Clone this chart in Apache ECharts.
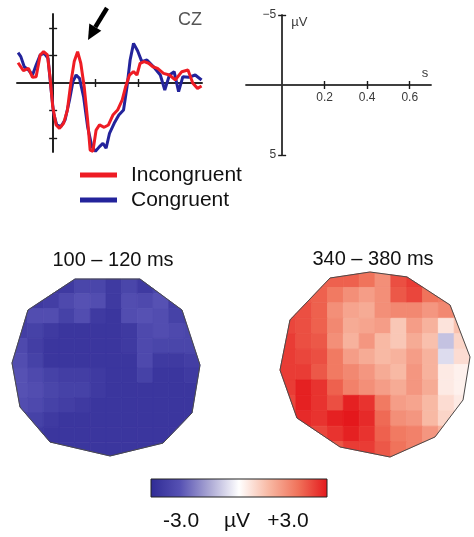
<!DOCTYPE html>
<html><head><meta charset="utf-8">
<script src="https://cdn.jsdelivr.net/npm/echarts@6/dist/echarts.min.js"></script>
<style>html,body{margin:0;padding:0;background:#fff}#c{width:474px;height:537px}</style>
</head><body><div id="c"></div>
<script>
// ---------- data ----------
const seriesNames = ['Incongruent', 'Congruent'];
const redTime = [-0.165,-0.140,-0.116,-0.097,-0.080,-0.061,-0.045,-0.027,-0.014,-0.002,0.014,0.030,0.049,0.067,0.083,0.099,0.115,0.130,0.146,0.162,0.174,0.187,0.202,0.218,0.240,0.260,0.281,0.303,0.325,0.340,0.359,0.378,0.394,0.409,0.428,0.449,0.469,0.491,0.519,0.547,0.574,0.605,0.634,0.657,0.679,0.698];
const redValues = [-1.47,-0.89,-1.06,-0.41,-0.46,-2.03,-2.27,-2.03,-0.34,1.71,3.04,3.29,2.92,1.96,0.02,-1.55,-2.27,-1.43,0.27,2.68,4.86,4.95,3.41,3.04,3.21,3.04,2.32,1.96,1.23,0.31,-0.58,-0.82,-0.58,-1.43,-1.55,-1.43,-1.18,-1.06,-0.70,-0.58,-0.22,-0.82,-0.94,0.02,0.39,0.22];
const blueTime = [-0.165,-0.152,-0.136,-0.116,-0.097,-0.080,-0.061,-0.042,-0.024,-0.011,0.002,0.017,0.036,0.056,0.077,0.093,0.108,0.124,0.143,0.162,0.182,0.199,0.218,0.234,0.249,0.265,0.287,0.309,0.331,0.347,0.362,0.378,0.397,0.417,0.441,0.472,0.504,0.525,0.547,0.569,0.590,0.610,0.637,0.668,0.698];
const blueValues = [-2.20,-1.91,-1.18,-0.94,-0.58,-1.30,-2.03,-2.15,-1.79,0.27,2.20,3.04,3.16,2.68,1.23,-0.10,-0.58,-0.34,0.99,3.16,4.61,4.95,4.61,4.37,4.73,3.65,2.92,2.32,1.96,0.31,-1.67,-2.87,-2.34,-1.55,-1.67,-1.18,-0.58,0.51,-0.58,-0.82,0.63,-0.46,-0.41,-0.58,-0.22];
const erpXTicks = [0.2, 0.4];
const erpYTicks = [-4, -2, 2, 4];
const scaleXTicks = [0.2, 0.4, 0.6];
const scaleXLabels = ['0.2', '0.4', '0.6'];
const scaleYTicks = [-5, 5];
const scaleYLabels = ['\u22125', '5'];
const scaleUnitY = '\u00b5V';
const scaleUnitX = 's';
const channelLabel = 'CZ';
const mapTitles = ['100 \u2013 120 ms', '340 \u2013 380 ms'];
const colorbarLabels = ['-3.0', '\u00b5V', '+3.0'];
const colorMin = -3, colorMax = 3;
const colorScale = ['#2f2b95', '#5651b3', '#aba8d4', '#ffffff', '#f8b9a4', '#f0735b', '#e4181c'];
// topography grids (µV), rows top->bottom, cols left->right
const mapEarly = [
 [-2.6,-2.6,-2.6,-2.6,-2.3,-2.3,-2.6,-2.3,-2.6,-2.3,-2.6,-2.6],
 [-2.6,-2.6,-2.5,-2.2,-2.0,-2.1,-2.6,-2.1,-2.2,-2.0,-2.5,-2.6],
 [-2.5,-2.1,-2.1,-2.4,-2.1,-2.6,-2.7,-2.1,-2.0,-2.1,-2.4,-2.5],
 [-2.5,-2.4,-2.6,-2.7,-2.7,-2.7,-2.7,-2.6,-2.2,-2.1,-2.2,-2.3],
 [-2.2,-2.5,-2.7,-2.7,-2.7,-2.7,-2.7,-2.6,-2.2,-2.3,-2.3,-2.3],
 [-2.1,-2.4,-2.7,-2.7,-2.7,-2.7,-2.7,-2.7,-2.2,-2.6,-2.6,-2.5],
 [-2.0,-2.2,-2.4,-2.5,-2.5,-2.6,-2.7,-2.7,-2.4,-2.7,-2.7,-2.6],
 [-2.0,-2.1,-2.3,-2.4,-2.4,-2.6,-2.7,-2.7,-2.7,-2.7,-2.7,-2.7],
 [-2.1,-2.2,-2.4,-2.5,-2.6,-2.7,-2.7,-2.7,-2.7,-2.7,-2.7,-2.7],
 [-2.3,-2.4,-2.6,-2.7,-2.7,-2.7,-2.7,-2.7,-2.7,-2.7,-2.7,-2.7],
 [-2.5,-2.6,-2.7,-2.7,-2.7,-2.7,-2.7,-2.7,-2.7,-2.7,-2.7,-2.7],
 [-2.7,-2.7,-2.7,-2.7,-2.7,-2.7,-2.7,-2.7,-2.7,-2.7,-2.7,-2.7]
];
const mapLate = [
 [2.2,2.2,2.2,2.2,2.2,2.0,1.6,2.4,2.6,2.2,2.2,2.0],
 [2.3,2.3,2.2,1.9,1.6,1.4,1.6,2.3,2.5,2.0,1.9,1.7],
 [2.5,2.4,2.2,1.6,1.3,1.2,1.6,1.7,1.7,1.5,1.7,1.3],
 [2.5,2.4,2.2,1.7,1.2,1.3,1.4,0.8,1.4,1.1,0.4,0.9],
 [2.6,2.4,2.3,1.6,1.1,1.5,1.0,0.8,1.2,0.9,-0.7,0.6],
 [2.6,2.5,2.4,1.9,1.4,1.2,1.0,1.1,1.4,1.1,-0.4,0.5],
 [2.6,2.6,2.3,1.9,1.7,1.5,1.2,1.0,1.5,1.1,0.3,0.2],
 [2.6,2.9,2.7,2.2,1.8,1.6,1.4,1.2,1.5,1.2,0.3,0.2],
 [2.5,2.9,2.7,2.4,2.9,2.7,1.9,1.4,1.3,1.0,0.5,0.3],
 [2.5,2.8,2.7,2.9,3.0,2.8,2.1,1.6,1.5,1.0,0.6,0.5],
 [2.4,2.6,2.5,2.7,2.9,2.7,2.2,1.9,1.8,1.5,1.1,0.9],
 [2.3,2.4,2.3,2.3,2.6,2.6,2.3,2.0,1.8,1.6,1.3,1.1]
];
// head outlines in grid units (0..12)
const outlineEarly = [[4.02,0],[8.17,0],[10.85,2.09],[12,5.8],[11.49,9.03],[9.64,11.06],[6.26,11.93],[2.43,10.99],[0.51,8.63],[0,5.66],[1.02,2.09]];
const outlineLate = [[3.16,0.39],[5.68,0],[8.02,0.32],[10.74,2.14],[12,5.51],[11.56,8.3],[9.79,10.7],[6.95,12],[3.79,11.35],[1.07,9.47],[0,6.36],[0.63,3.11]];

// ---------- helpers ----------
const FONT = "'Liberation Sans', Arial, sans-serif";
const pairs = (t, v) => t.map((x, i) => [x, v[i]]);
const cells = g => { const o = []; g.forEach((row, r) => row.forEach((val, c) => o.push([c, r, val]))); return o; };
function clipPoly(subject, clip) {
  let area = 0;
  for (let i = 0; i < clip.length; i++) { const a = clip[i], b = clip[(i + 1) % clip.length]; area += a[0] * b[1] - b[0] * a[1]; }
  const sgn = area > 0 ? 1 : -1;
  let out = subject;
  for (let i = 0; i < clip.length && out.length; i++) {
    const a = clip[i], b = clip[(i + 1) % clip.length];
    const inside = p => sgn * ((b[0] - a[0]) * (p[1] - a[1]) - (b[1] - a[1]) * (p[0] - a[0])) >= 0;
    const inter = (p, q) => {
      const a1 = b[1] - a[1], b1 = a[0] - b[0], c1 = a1 * a[0] + b1 * a[1];
      const a2 = q[1] - p[1], b2 = p[0] - q[0], c2 = a2 * p[0] + b2 * p[1];
      const d = a1 * b2 - a2 * b1;
      return [(b2 * c1 - b1 * c2) / d, (a1 * c2 - a2 * c1) / d];
    };
    const inp = out; out = [];
    for (let j = 0; j < inp.length; j++) {
      const cur = inp[j], prev = inp[(j + inp.length - 1) % inp.length];
      if (inside(cur)) { if (!inside(prev)) out.push(inter(prev, cur)); out.push(cur); }
      else if (inside(prev)) out.push(inter(prev, cur));
    }
  }
  return out;
}
function cellRenderer(outline) {
  return function (params, api) {
    const c = api.value(0), r = api.value(1);
    const p0 = api.coord([c, r]), p1 = api.coord([c + 1, r + 1]);
    const rect = [[p0[0], p0[1]], [p1[0], p0[1]], [p1[0], p1[1]], [p0[0], p1[1]]];
    const pts = clipPoly(rect, outline.map(v => api.coord(v)));
    if (pts.length < 3) return null;
    const col = api.visual('color');
    return { type: 'polygon', shape: { points: pts }, style: { fill: col, stroke: col, lineWidth: 0.8 } };
  };
}
function outlineRenderer(outline) {
  return function (params, api) {
    return { type: 'polygon', shape: { points: outline.map(v => api.coord(v)) }, style: { fill: 'none', stroke: '#4a4a4a', lineWidth: 1 }, z2: 10 };
  };
}
const axisLineStyle = { color: '#1a1a1a', width: 1.6 };
function valAxis(o) {
  return Object.assign({ type: 'value', splitLine: { show: false }, axisLine: { show: true, onZero: true, lineStyle: axisLineStyle },
    axisTick: { show: true, length: 4, lineStyle: { color: '#1a1a1a', width: 1.4 } }, axisLabel: { show: false } }, o);
}
const tickAt = (vals) => ({ show: true, length: 4, customValues: vals, lineStyle: { color: '#1a1a1a', width: 1.4 } });
const scaleLine = { show: true, onZero: true, lineStyle: { color: '#333', width: 1.5 } };

const chart = echarts.init(document.getElementById('c'), null, { renderer: 'canvas' });
chart.setOption({
  animation: false,
  backgroundColor: '#ffffff',
  grid: [
    { left: 17, top: 14, width: 185, height: 138 },
    { left: 246, top: 15, width: 185, height: 140 },
    { left: 12, top: 279, width: 188, height: 178 },
    { left: 280, top: 272, width: 190, height: 185 }
  ],
  xAxis: [
    valAxis({ gridIndex: 0, min: -0.17, max: 0.7, position: 'bottom', axisTick: tickAt(erpXTicks) }),
    valAxis({ gridIndex: 0, min: -0.17, max: 0.7, position: 'top', axisTick: tickAt(erpXTicks) }),
    valAxis({ gridIndex: 1, min: -0.17, max: 0.7, position: 'bottom', axisTick: tickAt(scaleXTicks), axisLine: scaleLine }),
    valAxis({ gridIndex: 1, min: -0.17, max: 0.7, position: 'top', axisTick: tickAt(scaleXTicks), axisLine: scaleLine,
      name: scaleUnitX, nameLocation: 'end', nameGap: -6,
      nameTextStyle: { color: '#3a3a3a', fontSize: 13, fontFamily: FONT, align: 'center', verticalAlign: 'bottom', padding: [0, 0, 5, 0] } }),
    { type: 'value', gridIndex: 2, min: 0, max: 12, show: false },
    { type: 'value', gridIndex: 3, min: 0, max: 12, show: false }
  ],
  yAxis: [
    valAxis({ gridIndex: 0, min: -5, max: 5, inverse: true, position: 'left', axisTick: tickAt(erpYTicks) }),
    valAxis({ gridIndex: 0, min: -5, max: 5, inverse: true, position: 'right', axisTick: tickAt(erpYTicks) }),
    valAxis({ gridIndex: 1, min: -5, max: 5, inverse: true, position: 'left', axisTick: tickAt(scaleYTicks), axisLine: scaleLine }),
    valAxis({ gridIndex: 1, min: -5, max: 5, inverse: true, position: 'right', axisTick: tickAt(scaleYTicks), axisLine: scaleLine }),
    { type: 'value', gridIndex: 2, min: 0, max: 12, inverse: true, show: false },
    { type: 'value', gridIndex: 3, min: 0, max: 12, inverse: true, show: false }
  ],
  legend: {
    orient: 'vertical', left: 80, top: 164, padding: 0, itemWidth: 37, itemHeight: 5, itemGap: 3, icon: 'rect',
    data: seriesNames,
    textStyle: { fontSize: 21, lineHeight: 22, fontFamily: FONT, color: '#111', padding: [0, 0, 0, 9] }
  },
  visualMap: {
    type: 'continuous', show: false, min: colorMin, max: colorMax, dimension: 2, seriesIndex: [2, 3],
    inRange: { color: colorScale }
  },
  series: [
    { name: seriesNames[1], type: 'line', xAxisIndex: 0, yAxisIndex: 0, data: pairs(blueTime, blueValues),
      symbol: 'none', color: '#23239b', lineStyle: { width: 3, color: '#23239b' }, z: 3 },
    { name: seriesNames[0], type: 'line', xAxisIndex: 0, yAxisIndex: 0, data: pairs(redTime, redValues),
      symbol: 'none', color: '#ee1c24', lineStyle: { width: 3, color: '#ee1c24' }, z: 4 },
    { type: 'custom', xAxisIndex: 4, yAxisIndex: 4, data: cells(mapEarly), renderItem: cellRenderer(outlineEarly), encode: { x: 0, y: 1 } },
    { type: 'custom', xAxisIndex: 5, yAxisIndex: 5, data: cells(mapLate), renderItem: cellRenderer(outlineLate), encode: { x: 0, y: 1 } },
    { type: 'custom', xAxisIndex: 4, yAxisIndex: 4, data: [[0, 0]], renderItem: outlineRenderer(outlineEarly), z: 5 },
    { type: 'custom', xAxisIndex: 5, yAxisIndex: 5, data: [[0, 0]], renderItem: outlineRenderer(outlineLate), z: 5 }
  ]
});

// labels of the scale axes, positioned through the scale grid's coordinate system
const px = (t, v) => chart.convertToPixel({ gridIndex: 1 }, [t, v]);
const labelStyle = (size, align, va) => ({ font: size + 'px ' + FONT, fill: '#3a3a3a', align: align, verticalAlign: va });
const graphics = [];
scaleXTicks.forEach((t, i) => { const p = px(t, 0); graphics.push({ type: 'text', x: p[0], y: p[1] + 7, style: Object.assign({ text: scaleXLabels[i] }, labelStyle(12, 'center', 'top')) }); });
scaleYTicks.forEach((v, i) => { const p = px(0, v); graphics.push({ type: 'text', x: p[0] - 6, y: p[1], style: Object.assign({ text: scaleYLabels[i] }, labelStyle(12, 'right', 'middle')) }); });
{ const p = px(0, scaleYTicks[0]); graphics.push({ type: 'text', x: p[0] + 9, y: p[1] + 7, style: Object.assign({ text: scaleUnitY }, labelStyle(13, 'left', 'middle')) }); }

graphics.push(
  { type: 'text', x: 190, y: 20, style: { text: channelLabel, font: '18px ' + FONT, fill: '#555', align: 'center', verticalAlign: 'middle' } },
  { type: 'line', shape: { x1: 107, y1: 8, x2: 95.3, y2: 27.1 }, style: { stroke: '#000', lineWidth: 4.5 } },
  { type: 'polygon', shape: { points: [[88, 40], [89.3, 23.4], [101.3, 30.8]] }, style: { fill: '#000' } },
  { type: 'text', x: 113, y: 260, style: { text: mapTitles[0], font: '20px ' + FONT, fill: '#111', align: 'center', verticalAlign: 'middle' } },
  { type: 'text', x: 373, y: 259, style: { text: mapTitles[1], font: '20px ' + FONT, fill: '#111', align: 'center', verticalAlign: 'middle' } },
  { type: 'rect', shape: { x: 151, y: 479, width: 176, height: 18 },
    style: { fill: new echarts.graphic.LinearGradient(0, 0, 1, 0, colorScale.map((c, i) => ({ offset: i / (colorScale.length - 1), color: c }))),
      stroke: '#222', lineWidth: 1 } },
  { type: 'text', x: 181, y: 521, style: { text: colorbarLabels[0], font: '21px ' + FONT, fill: '#111', align: 'center', verticalAlign: 'middle' } },
  { type: 'text', x: 237, y: 521, style: { text: colorbarLabels[1], font: '21px ' + FONT, fill: '#111', align: 'center', verticalAlign: 'middle' } },
  { type: 'text', x: 288, y: 521, style: { text: colorbarLabels[2], font: '21px ' + FONT, fill: '#111', align: 'center', verticalAlign: 'middle' } }
);
chart.setOption({ graphic: graphics });
</script></body></html>
